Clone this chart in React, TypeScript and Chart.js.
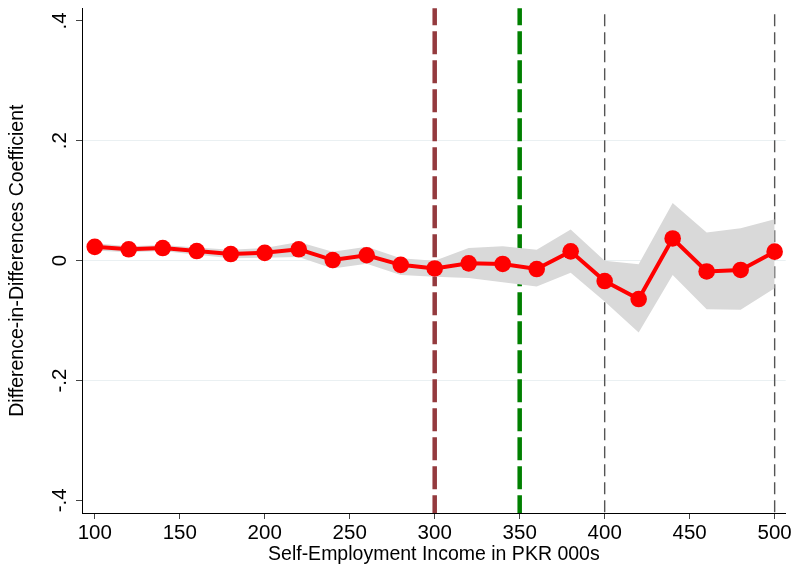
import React, { useEffect, useRef } from "react";
import { Chart, registerables } from "chart.js";

Chart.register(...registerables);

// ---- Data ----
const incomeLevels = [100, 120, 140, 160, 180, 200, 220, 240, 260, 280, 300, 320, 340, 360, 380, 400, 420, 440, 460, 480, 500];
const coefficients = [0.023, 0.019, 0.021, 0.016, 0.011, 0.013, 0.019, 0.001, 0.009, -0.007, -0.013, -0.0045, -0.0055, -0.014, 0.0155, -0.034, -0.064, 0.037, -0.018, -0.0155, 0.015];
const ciUpper = [0.029, 0.024, 0.026, 0.022, 0.018, 0.021, 0.031, 0.015, 0.023, 0.004, 0.0, 0.021, 0.024, 0.018, 0.052, 0.0, -0.006, 0.096, 0.047, 0.054, 0.069];
const ciLower = [0.017, 0.014, 0.016, 0.010, 0.004, 0.005, 0.006, -0.013, -0.005, -0.024, -0.027, -0.029, -0.036, -0.043, -0.020, -0.068, -0.12, -0.024, -0.081, -0.082, -0.046];
const xTickValues = [100, 150, 200, 250, 300, 350, 400, 450, 500];
const yTickValues = [-0.4, -0.2, 0, 0.2, 0.4];
const yGridValues = [-0.2, 0, 0.2];
const refLineValues = [300, 350, 400, 500];

const xTitle = "Self-Employment Income in PKR 000s";
const yTitle = "Difference-in-Differences Coefficient";

// ---- Styles ----
const FONT_FAMILY = "'Liberation Sans', Arial, sans-serif";
const refLineStyles = [
  { color: "#943a3e", width: 4.5, dash: [23, 6], offset: 6 },
  { color: "#008000", width: 4.5, dash: [23, 6], offset: 6 },
  { color: "#555555", width: 1.4, dash: [12, 6], offset: 12 },
  { color: "#555555", width: 1.4, dash: [12, 6], offset: 12 },
];

const refLinePlugin = {
  id: "refLines",
  beforeDatasetsDraw(chart: any) {
    const { ctx, chartArea, scales } = chart;
    const xs = scales.x;
    ctx.save();
    refLineValues.forEach((v, i) => {
      const st = refLineStyles[i];
      const px = xs.getPixelForValue(v);
      ctx.beginPath();
      ctx.strokeStyle = st.color;
      ctx.lineWidth = st.width;
      ctx.setLineDash(st.dash);
      ctx.lineDashOffset = st.offset;
      ctx.moveTo(px, chartArea.top);
      ctx.lineTo(px, chartArea.bottom);
      ctx.stroke();
    });
    ctx.restore();
  },
};

function fmtY(v: number) {
  if (Math.abs(v) < 1e-9) return "0";
  const s = String(Math.abs(Math.round(v * 10) / 10)).replace(/^0/, "");
  return (v < 0 ? "-" : "") + s;
}

export default function App() {
  const canvasRef = useRef<HTMLCanvasElement | null>(null);

  useEffect(() => {
    if (!canvasRef.current) return;
    const tickFont = { family: FONT_FAMILY, size: 20.5 };
    const titleFont = { family: FONT_FAMILY, size: 19.5 };
    const chart = new Chart(canvasRef.current, {
      type: "line",
      data: {
        labels: incomeLevels,
        datasets: [
          {
            label: "upper",
            data: incomeLevels.map((x, i) => ({ x, y: ciUpper[i] })),
            borderWidth: 0,
            borderColor: "rgba(0,0,0,0)",
            pointRadius: 0,
            fill: "+1",
            backgroundColor: "rgb(217,217,217)",
            order: 1,
          },
          {
            label: "lower",
            data: incomeLevels.map((x, i) => ({ x, y: ciLower[i] })),
            borderWidth: 0,
            borderColor: "rgba(0,0,0,0)",
            pointRadius: 0,
            fill: false,
            order: 2,
          },
          {
            label: "coef",
            data: incomeLevels.map((x, i) => ({ x, y: coefficients[i] })),
            borderColor: "#ff0000",
            borderWidth: 4,
            pointRadius: 8.3,
            pointBackgroundColor: "#ff0000",
            pointBorderWidth: 0,
            fill: false,
            order: 0,
          },
        ],
      },
      options: {
        animation: false,
        responsive: false,
        devicePixelRatio: 1,
        layout: { padding: { top: 7, right: 8, left: 0, bottom: 0 } },
        plugins: {
          legend: { display: false },
          tooltip: { enabled: false },
        },
        scales: {
          x: {
            type: "linear",
            min: 92.5,
            max: 506.5,
            afterBuildTicks: (s: any) => {
              s.ticks = xTickValues.map((v) => ({ value: v }));
            },
            afterFit: (s: any) => {
              s.height = 53;
              s.paddingLeft = 0;
              s.paddingRight = 0;
            },
            ticks: {
              font: tickFont,
              color: "#000",
              padding: 2,
              maxRotation: 0,
              minRotation: 0,
              callback: (v: any) => String(v),
            },
            grid: {
              drawOnChartArea: false,
              drawTicks: true,
              tickLength: 6,
              tickColor: "#444",
            },
            border: { color: "#000", width: 1 },
            title: {
              display: true,
              text: xTitle,
              font: titleFont,
              color: "#000",
              padding: { top: 0, bottom: 0 },
            },
          },
          y: {
            type: "linear",
            min: -0.421,
            max: 0.421,
            afterBuildTicks: (s: any) => {
              s.ticks = yTickValues.map((v) => ({ value: v }));
            },
            afterFit: (s: any) => {
              s.width = 82;
              s.paddingTop = 0;
              s.paddingBottom = 0;
            },
            ticks: {
              font: tickFont,
              color: "#000",
              minRotation: 90,
              maxRotation: 90,
              crossAlign: "center",
              padding: 4,
              callback: (v: any) => fmtY(Number(v)),
            },
            grid: {
              color: (ctx: any) => {
                const v = ctx.tick ? ctx.tick.value : NaN;
                return yGridValues.some((g) => Math.abs(g - v) < 1e-9) ? "rgb(234,240,242)" : "rgba(0,0,0,0)";
              },
              lineWidth: 1,
              tickLength: 6,
              tickColor: "#444",
            },
            border: { color: "#000", width: 1 },
            title: {
              display: true,
              text: yTitle,
              font: titleFont,
              color: "#000",
              padding: { top: 6, bottom: 0 },
            },
          },
        },
      } as any,
      plugins: [refLinePlugin],
    });
    return () => chart.destroy();
  }, []);

  return (
    <div style={{ position: "absolute", left: 0, top: 0, width: 794, height: 566, background: "#fff" }}>
      <canvas ref={canvasRef} width={794} height={566} />
    </div>
  );
}
